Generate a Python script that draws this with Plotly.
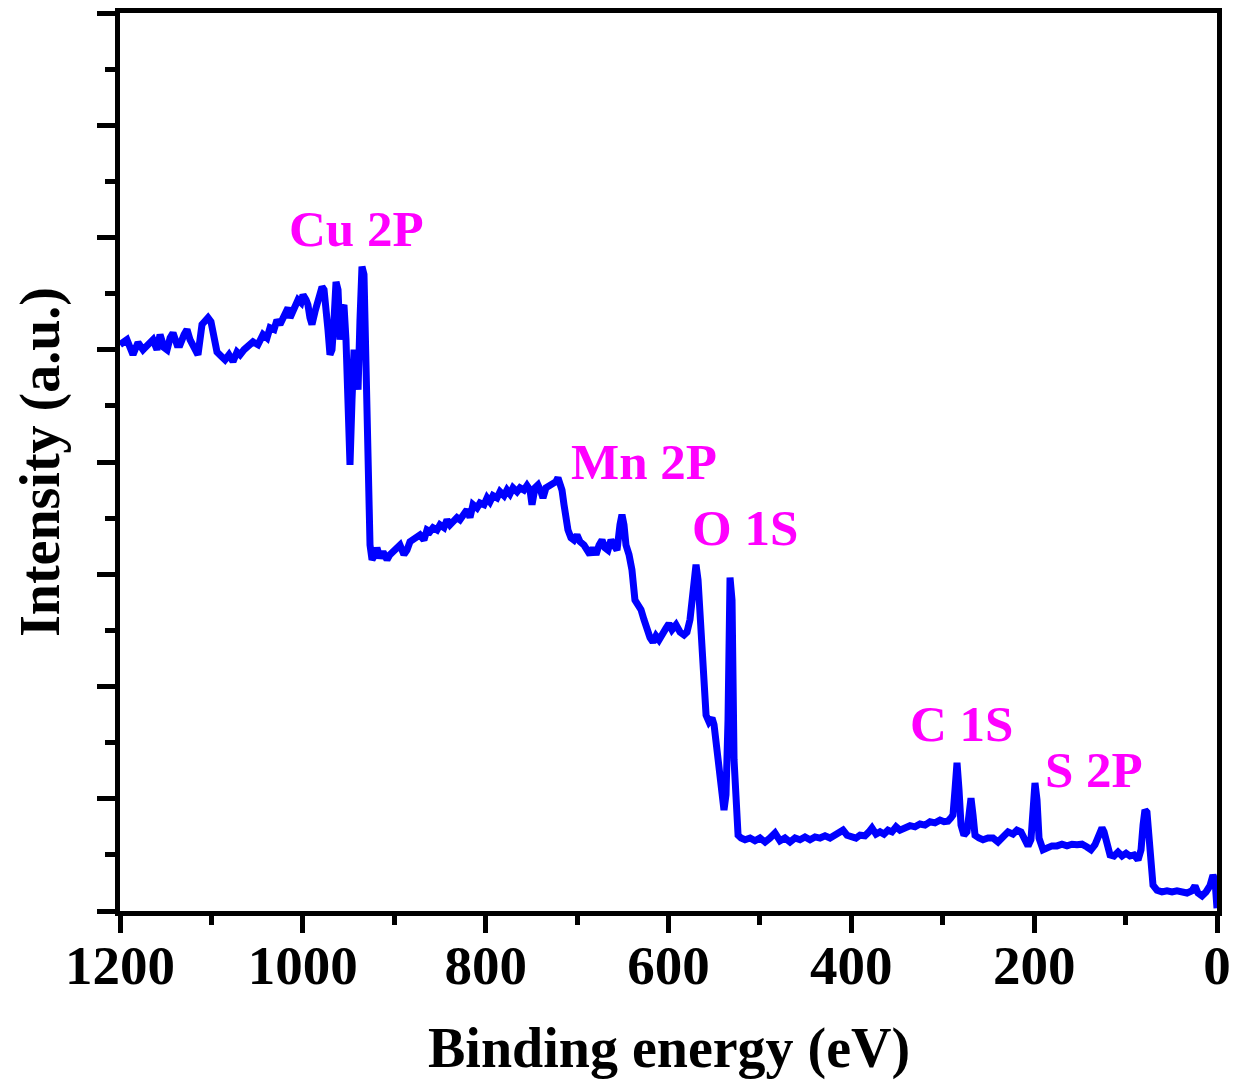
import plotly.graph_objects as go

# Binding energy (eV) and intensity (a.u.)
binding_energy = [
    1200.0, 1192.4, 1185.8, 1180.3, 1174.8, 1169.4, 1163.9, 1159.5, 1156.2, 1151.8,
    1148.5, 1145.2, 1142.0, 1137.6, 1134.3, 1129.9, 1126.7, 1123.4, 1120.1, 1116.8,
    1114.7, 1110.3, 1107.0, 1103.7, 1100.5, 1098.3, 1093.9, 1089.5, 1085.1, 1080.8,
    1076.4, 1072.0, 1068.7, 1064.4, 1061.1, 1057.8, 1054.5, 1049.1, 1043.6, 1039.2,
    1035.9, 1031.5, 1028.3, 1025.0, 1021.7, 1018.4, 1016.2, 1014.0, 1010.8, 1007.5,
    1005.3, 1002.0, 999.8, 996.5, 994.4, 992.2, 990.0, 986.7, 984.5, 981.2,
    979.0, 976.8, 974.7, 972.5, 970.3, 968.1, 965.9, 963.7, 961.5, 959.3,
    957.2, 955.0, 952.8, 950.6, 948.4, 946.2, 944.0, 941.8, 939.6, 937.5,
    935.3, 933.1, 930.9, 928.7, 926.5, 924.3, 921.0, 918.9, 915.6, 912.3,
    907.9, 904.7, 901.4, 897.0, 893.7, 889.4, 886.1, 882.8, 879.5, 875.1,
    871.9, 867.5, 864.2, 860.9, 857.6, 853.2, 850.0, 845.6, 842.3, 839.0,
    835.7, 831.4, 828.1, 823.7, 820.4, 817.1, 813.9, 809.5, 806.2, 801.8,
    798.5, 795.3, 792.0, 787.6, 784.3, 779.9, 776.7, 773.4, 770.1, 765.7,
    762.4, 758.1, 754.8, 751.5, 749.3, 746.0, 742.8, 739.5, 737.3, 734.0,
    729.6, 726.4, 723.1, 720.9, 718.7, 716.5, 714.3, 712.1, 710.0, 706.7,
    703.4, 700.1, 696.8, 692.4, 689.2, 685.9, 682.6, 679.3, 676.0, 672.7,
    669.5, 666.2, 662.9, 659.6, 656.3, 653.1, 650.9, 648.7, 646.5, 643.2,
    640.0, 636.7, 633.4, 630.1, 626.8, 623.5, 620.2, 617.0, 613.7, 610.4,
    607.1, 602.7, 599.5, 596.2, 591.8, 587.4, 583.0, 579.8, 576.5, 573.2,
    569.9, 567.7, 565.5, 563.3, 561.1, 558.9, 555.7, 552.4, 550.2, 548.0,
    545.8, 543.6, 541.4, 539.3, 537.1, 534.9, 532.7, 530.5, 528.3, 526.1,
    523.9, 520.6, 516.3, 510.8, 505.4, 499.9, 494.4, 489.0, 483.5, 478.0,
    472.6, 467.1, 461.6, 456.2, 450.7, 445.2, 439.7, 434.3, 428.8, 423.3,
    417.9, 412.4, 409.1, 404.7, 400.4, 394.9, 390.5, 385.1, 380.7, 377.4,
    373.0, 368.6, 364.3, 359.9, 355.5, 351.1, 346.8, 341.3, 335.8, 330.4,
    324.9, 319.4, 313.9, 308.5, 303.0, 298.6, 294.3, 291.0, 288.8, 286.6,
    284.4, 282.2, 280.0, 276.8, 273.5, 271.3, 269.1, 266.9, 264.7, 260.4,
    256.0, 250.5, 245.0, 239.6, 234.1, 228.6, 223.2, 218.8, 214.4, 211.1,
    206.7, 203.5, 201.3, 199.1, 196.9, 194.7, 190.3, 186.0, 180.5, 175.0,
    169.6, 164.1, 158.6, 153.1, 147.7, 142.2, 137.8, 133.5, 129.1, 125.8,
    123.6, 120.3, 117.0, 112.7, 108.3, 103.9, 99.5, 95.2, 90.8, 86.4,
    83.1, 80.9, 78.8, 76.6, 74.4, 72.2, 70.0, 65.6, 60.2, 54.7,
    49.2, 43.8, 38.3, 32.8, 27.3, 24.1, 20.8, 16.4, 12.0, 7.7,
    4.4, 2.2, 0.0,
]

intensity = [
    10.09, 10.18, 9.91, 10.13, 10.00, 10.09, 10.18, 10.00, 10.27, 10.04,
    10.00, 10.21, 10.30, 10.09, 10.09, 10.27, 10.36, 10.18, 10.09, 10.00,
    9.91, 10.45, 10.50, 10.57, 10.50, 10.36, 9.96, 9.89, 9.82, 9.91,
    9.79, 9.96, 9.91, 10.00, 10.04, 10.09, 10.14, 10.09, 10.27, 10.21,
    10.39, 10.36, 10.53, 10.45, 10.57, 10.62, 10.75, 10.57, 10.68, 10.80,
    10.89, 10.84, 10.98, 10.89, 10.80, 10.57, 10.45, 10.68, 10.80, 10.98,
    11.12, 11.07, 10.80, 10.36, 9.91, 10.00, 10.53, 11.21, 11.07, 10.18,
    10.71, 10.80, 10.18, 8.75, 7.95, 9.11, 10.00, 9.64, 9.29, 10.53,
    11.48, 11.34, 9.82, 7.68, 6.52, 6.26, 6.35, 6.47, 6.29, 6.40,
    6.26, 6.35, 6.40, 6.43, 6.52, 6.35, 6.43, 6.58, 6.61, 6.65,
    6.70, 6.61, 6.79, 6.76, 6.83, 6.79, 6.88, 6.83, 6.97, 6.88,
    6.93, 7.01, 6.97, 7.06, 7.15, 7.01, 7.24, 7.18, 7.27, 7.24,
    7.36, 7.29, 7.40, 7.36, 7.47, 7.40, 7.50, 7.43, 7.54, 7.47,
    7.54, 7.50, 7.58, 7.50, 7.24, 7.54, 7.59, 7.47, 7.36, 7.54,
    7.58, 7.61, 7.65, 7.72, 7.61, 7.50, 7.24, 6.93, 6.79, 6.65,
    6.61, 6.70, 6.58, 6.52, 6.43, 6.35, 6.47, 6.35, 6.52, 6.61,
    6.47, 6.43, 6.61, 6.52, 6.43, 6.88, 7.06, 6.88, 6.52, 6.35,
    6.08, 5.54, 5.45, 5.37, 5.19, 4.97, 4.87, 4.79, 4.90, 4.83,
    4.90, 5.04, 5.12, 5.01, 5.10, 4.97, 4.92, 4.97, 5.19, 5.72,
    6.17, 5.90, 5.19, 4.47, 3.85, 3.49, 3.37, 3.44, 3.32, 2.96,
    2.60, 2.25, 1.89, 1.80, 2.07, 3.40, 5.94, 5.54, 2.69, 1.53,
    1.35, 1.30, 1.27, 1.30, 1.25, 1.30, 1.23, 1.30, 1.39, 1.25,
    1.30, 1.23, 1.30, 1.27, 1.32, 1.27, 1.32, 1.30, 1.34, 1.30,
    1.35, 1.39, 1.44, 1.35, 1.34, 1.30, 1.35, 1.34, 1.41, 1.48,
    1.37, 1.41, 1.37, 1.44, 1.41, 1.50, 1.44, 1.48, 1.52, 1.50,
    1.55, 1.53, 1.59, 1.57, 1.62, 1.59, 1.60, 1.66, 1.71, 2.16,
    2.64, 2.16, 1.53, 1.35, 1.41, 1.71, 2.01, 1.71, 1.35, 1.30,
    1.27, 1.30, 1.30, 1.23, 1.34, 1.41, 1.37, 1.44, 1.41, 1.27,
    1.16, 1.27, 1.89, 2.28, 1.98, 1.30, 1.09, 1.12, 1.16, 1.16,
    1.19, 1.16, 1.19, 1.18, 1.19, 1.14, 1.09, 1.18, 1.34, 1.48,
    1.41, 1.12, 1.00, 0.98, 1.05, 0.98, 1.03, 0.98, 1.00, 0.91,
    1.09, 1.53, 1.80, 1.76, 1.35, 0.82, 0.46, 0.37, 0.34, 0.36,
    0.34, 0.36, 0.34, 0.32, 0.36, 0.45, 0.32, 0.27, 0.34, 0.45,
    0.64, 0.55, 0.05,
]

# Peak labels
peak_labels = ["Cu 2P", "Mn 2P", "O 1S", "C 1S", "S 2P"]
label_x = [940.8, 626.8, 516.3, 280.0, 134.5]
label_y = [12.16, 8.0, 6.83, 3.33, 2.51]

x_ticks = [1200, 1000, 800, 600, 400, 200, 0]
x_tick_labels = ["1200", "1000", "800", "600", "400", "200", "0"]

x_title = "Binding energy (eV)"
y_title = "Intensity (a.u.)"

FONT = "Liberation Serif"

fig = go.Figure()
fig.add_trace(go.Scatter(
    x=binding_energy, y=intensity, mode="lines",
    line=dict(color="#0000FF", width=7),
    showlegend=False,
))

for t, lx, ly in zip(peak_labels, label_x, label_y):
    fig.add_annotation(
        x=lx, y=ly, text=t, showarrow=False,
        font=dict(family=FONT, size=51, color="#FF00FF", weight="bold"),
        xanchor="center", yanchor="middle",
    )

# Axis titles as paper-positioned text
fig.add_annotation(
    x=0.5, y=-0.1526, xref="paper", yref="paper", text=x_title, showarrow=False,
    xanchor="center", yanchor="middle",
    font=dict(family=FONT, size=56, color="black", weight="bold"),
)
fig.add_annotation(
    x=-0.0729, y=0.5, xref="paper", yref="paper", text=y_title, showarrow=False,
    xanchor="center", yanchor="middle", textangle=-90,
    font=dict(family=FONT, size=56, color="black", weight="bold"),
)

# The page body keeps an 8 px default margin, so the figure is 8 px smaller
fig.update_layout(
    width=1230, height=1074,
    margin=dict(l=112, r=21, t=5, b=171, autoexpand=False),
    paper_bgcolor="white", plot_bgcolor="white",
    font=dict(family=FONT, color="black", weight="bold"),
    xaxis=dict(
        range=[1200, 0], autorange=False, automargin=False,
        tickmode="array", tickvals=x_ticks, ticktext=x_tick_labels,
        ticks="outside", ticklen=17, tickwidth=5, tickcolor="black",
        minor=dict(dtick=100, ticks="outside", ticklen=9, tickwidth=5, tickcolor="black"),
        showline=True, linewidth=5, linecolor="black", mirror=True,
        showgrid=False, zeroline=False,
        ticklabelstandoff=-15,
        tickfont=dict(family=FONT, size=55, color="black", weight="bold"),
    ),
    yaxis=dict(
        range=[0, 16], autorange=False, automargin=False,
        tick0=0, dtick=2, showticklabels=False,
        ticks="outside", ticklen=18, tickwidth=5, tickcolor="black",
        minor=dict(dtick=1, ticks="outside", ticklen=10, tickwidth=5, tickcolor="black"),
        showline=True, linewidth=5, linecolor="black", mirror=True,
        showgrid=False, zeroline=False,
    ),
)

fig.write_html("out.html")
